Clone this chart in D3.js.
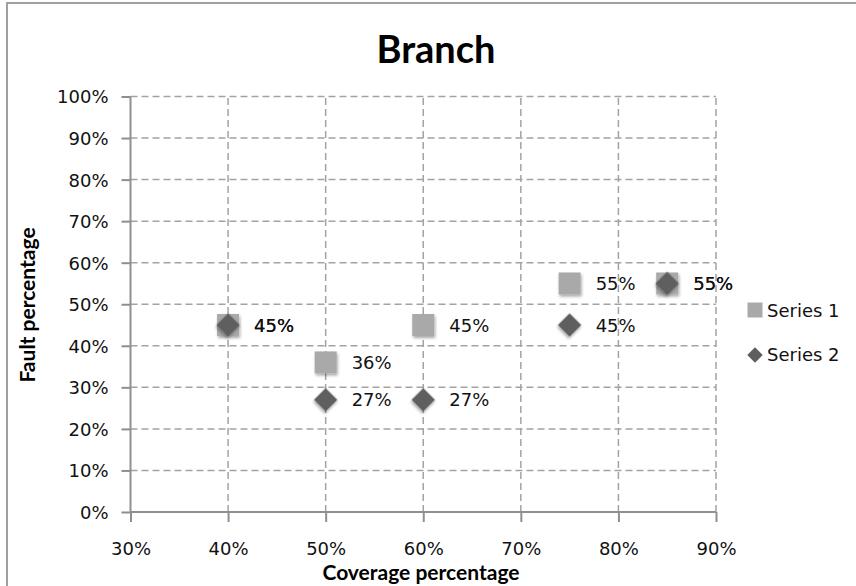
<!DOCTYPE html>
<meta charset="utf-8">
<style>
	body { margin: 0; background: #fff; }
	.grid line { stroke: #a3a3a3; stroke-width: 1.5; stroke-dasharray: 7,4; }
	.axis path, .axis line { stroke: #8f8f8f; stroke-width: 2; }
	.axis text { font: 18px "DejaVu Sans", sans-serif; fill: #111; }
	.lbl { font: 18px "DejaVu Sans", sans-serif; fill: #111; }
	.ttl { font-family: Lato, sans-serif; font-weight: bold; fill: #000; }
</style>
<body>
<script src="https://cdn.jsdelivr.net/npm/d3@7"></script>
<script>
var width = 856, height = 586;

// data (percent)
var coverage = [40, 50, 60, 75, 85];
var series1 = [45, 36, 45, 55, 55];
var series2 = [45, 27, 27, 45, 55];
var xTicks = [30, 40, 50, 60, 70, 80, 90];
var yTicks = [0, 10, 20, 30, 40, 50, 60, 70, 80, 90, 100];
var seriesNames = ["Series 1", "Series 2"];

var x = d3.scaleLinear().domain([30, 90]).range([130.5, 716]);
var y = d3.scaleLinear().domain([0, 100]).range([512, 96.5]);
var pct = function(d) { return d + "%"; };

var svg = d3.select("body").append("svg")
    .attr("width", width)
    .attr("height", height);

// soft shadow under markers
var f = svg.append("defs").append("filter").attr("id", "shadow")
    .attr("x", "-50%").attr("y", "-50%").attr("width", "200%").attr("height", "200%");
f.append("feGaussianBlur").attr("in", "SourceAlpha").attr("stdDeviation", 1.5);
f.append("feOffset").attr("dx", 1).attr("dy", 1.5).attr("result", "b");
f.append("feComponentTransfer").append("feFuncA").attr("type", "linear").attr("slope", 0.35);
var fm = f.append("feMerge");
fm.append("feMergeNode");
fm.append("feMergeNode").attr("in", "SourceGraphic");

// chart frame (only top / left edges visible)
svg.append("rect")
    .attr("x", 7).attr("y", 3)
    .attr("width", width + 20).attr("height", height + 20)
    .attr("fill", "none")
    .attr("stroke", "#a0a0a0")
    .attr("stroke-width", 2);

// gridlines
svg.append("g").attr("class", "grid")
    .selectAll("line").data(yTicks.slice(1)).enter().append("line")
    .attr("x1", x(30)).attr("x2", x(90))
    .attr("y1", function(d) { return y(d); })
    .attr("y2", function(d) { return y(d); });
svg.append("g").attr("class", "grid")
    .selectAll("line").data(xTicks.slice(1)).enter().append("line")
    .attr("y1", y(0)).attr("y2", y(100))
    .attr("x1", function(d) { return x(d); })
    .attr("x2", function(d) { return x(d); });

// axes
var xAxis = svg.append("g").attr("class", "axis")
    .attr("transform", "translate(0," + y(0) + ")")
    .call(d3.axisBottom(x).tickValues(xTicks).tickFormat(pct).tickSize(10).tickSizeOuter(0))
    .call(function(g) { g.select(".domain").remove(); });
xAxis.selectAll("text").attr("y", 37).attr("dy", "0.36em");
xAxis.append("line").attr("x1", x(30)).attr("x2", x(90));

var yAxis = svg.append("g").attr("class", "axis")
    .attr("transform", "translate(" + x(30) + ",0)")
    .call(d3.axisLeft(y).tickValues(yTicks).tickFormat(pct).tickSize(9).tickSizeOuter(0).tickPadding(13))
    .call(function(g) { g.select(".domain").remove(); });
yAxis.selectAll("text").attr("dy", "0.36em");
yAxis.append("line").attr("y1", y(0)).attr("y2", y(100));

// titles
svg.append("text").attr("class", "ttl")
    .attr("x", 436).attr("y", 63)
    .attr("text-anchor", "middle")
    .style("font-size", "38px")
    .text("Branch");
svg.append("text").attr("class", "ttl")
    .attr("x", 421).attr("y", 580)
    .attr("text-anchor", "middle")
    .style("font-size", "21px")
    .text("Coverage percentage");
svg.append("text").attr("class", "ttl")
    .attr("transform", "translate(35,305) rotate(-90)")
    .attr("text-anchor", "middle")
    .style("font-size", "21px")
    .text("Fault percentage");

// markers
var sq = d3.symbol().type(d3.symbolSquare).size(22 * 22);
var dm = d3.symbol().type(d3.symbolSquare).size(16.5 * 16.5);

var pts1 = coverage.map(function(c, i) { return {x: c, y: series1[i]}; });
var pts2 = coverage.map(function(c, i) { return {x: c, y: series2[i]}; });

svg.append("g").selectAll("path").data(pts1).enter().append("path")
    .attr("d", sq)
    .attr("fill", "#a9a9a9")
    .attr("filter", "url(#shadow)")
    .attr("transform", function(d) { return "translate(" + x(d.x) + "," + y(d.y) + ")"; });
svg.append("g").selectAll("path").data(pts2).enter().append("path")
    .attr("d", dm)
    .attr("fill", "#5e5e5e")
    .attr("filter", "url(#shadow)")
    .attr("transform", function(d) { return "translate(" + x(d.x) + "," + y(d.y) + ") rotate(45)"; });

// data labels
[pts1, pts2].forEach(function(pts) {
  svg.append("g").selectAll("text").data(pts).enter().append("text")
      .attr("class", "lbl")
      .attr("x", function(d) { return x(d.x) + 26; })
      .attr("y", function(d) { return y(d.y); })
      .attr("dy", "0.36em")
      .text(function(d) { return pct(d.y); });
});

// legend
var leg = svg.append("g").attr("transform", "translate(755,0)");
leg.append("path").attr("d", d3.symbol().type(d3.symbolSquare).size(15 * 15))
    .attr("fill", "#a9a9a9").attr("transform", "translate(0,310)");
leg.append("path").attr("d", d3.symbol().type(d3.symbolSquare).size(11 * 11))
    .attr("fill", "#5e5e5e").attr("transform", "translate(0,355) rotate(45)");
leg.selectAll("text").data(seriesNames).enter().append("text")
    .attr("class", "lbl")
    .attr("x", 12)
    .attr("y", function(d, i) { return i ? 355 : 311; })
    .attr("dy", "0.36em")
    .text(function(d) { return d; });
</script>
